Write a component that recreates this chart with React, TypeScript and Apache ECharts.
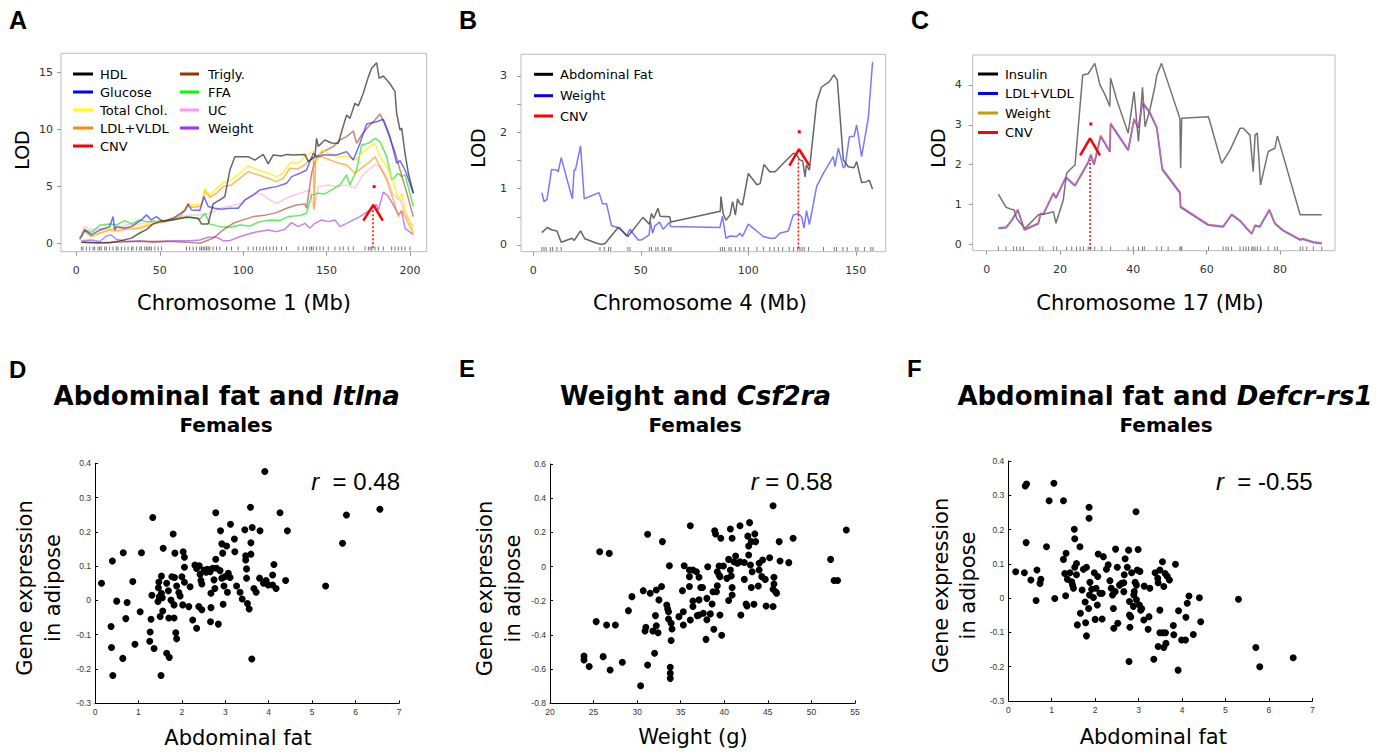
import React, { useEffect, useRef } from 'react';
import * as echarts from 'echarts';

const FONT = '"DejaVu Sans", Verdana, sans-serif';
const ARIAL = '"Liberation Sans", Arial, sans-serif';

// ---------- Panel A: Chromosome 1 ----------
const hdlA = [[3,0.1],[12,0.05],[20,0.05],[26,0.2],[33,0.45],[38,0.9],[42,1.2],[46,1.7],[50,1.9],[58,2.05],[66,2.3],[73,2.2],[75,1.7],[79,1.7],[82,3.45],[86,3.8],[89,4.1],[92,6.4],[95,7.6],[103,7.6],[107,7.3],[112,7.8],[115,6.96],[118,7.75],[123,7.66],[126,7.8],[130,7.75],[137,7.8],[139,7.16],[143,7.6],[144,9.2],[145,8.5],[149,9.06],[153,8.8],[157,8.77],[159,9.8],[162,11.26],[164,10.96],[167,12.28],[169,12.05],[172,13.16],[175,14.6],[177,15.35],[180,15.85],[181.5,14.47],[184,14.68],[188,14.0],[191,13.3],[192,11.4],[194,9.94],[195,10.1],[197,7.9],[199,6.14],[202,4.39]];
const glucoseA = [[2,0.35],[5,1.17],[9,0.73],[14,1.17],[20,1.46],[22,2.34],[23,1.17],[24,1.46],[29,1.32],[33,1.46],[39,2.05],[42,2.49],[45,2.05],[48,2.34],[52,1.9],[58,2.19],[65,2.87],[67,3.45],[69,2.92],[74,2.87],[76.5,4.09],[79,3.22],[83,3.07],[87,2.98],[92,3.07],[97,3.07],[101,3.8],[106,4.24],[110,4.68],[116,4.88],[120,4.97],[126,5.26],[129,5.85],[134,6.14],[138,6.43],[142,7.9],[144,7.6],[148,7.75],[156,7.75],[162,8.04],[166,7.31],[170,8.77],[174,10.47],[180,10.67],[184,10.88],[188,9.36],[192,7.02],[194,7.25],[197,6.43],[202,4.39]];
const totalCholA = [[2,0.53],[5,1.17],[9,0.73],[14,1.02],[20,1.32],[24,1.23],[30,1.4],[38,1.46],[46,1.81],[54,2.05],[62,2.49],[67,3.5],[70,3.36],[75,3.45],[77,4.82],[80,4.24],[84,4.82],[88,5.32],[93,5.56],[98,6.14],[103,6.78],[109,6.43],[115,6.14],[120,5.85],[124,6.14],[128,7.08],[133,7.02],[138,7.75],[142,8.04],[144,7.16],[147,8.19],[151,7.9],[156,7.6],[162,7.66],[167,7.31],[172,8.04],[176,8.48],[179,8.77],[182,7.6],[186,6.73],[190,5.41],[193,3.8],[195,4.39],[197,2.92],[202,1.17]];
const ldlA = [[2,0.47],[5,1.02],[9,0.58],[14,0.88],[20,1.17],[24,1.08],[30,1.23],[38,1.32],[46,1.7],[54,1.9],[62,2.34],[67,3.27],[70,3.16],[75,3.27],[77,4.62],[80,4.04],[84,4.39],[88,4.97],[93,5.12],[98,5.7],[103,6.29],[109,6.0],[115,5.7],[120,5.41],[124,5.7],[128,6.58],[133,6.52],[138,7.02],[142,7.6],[142.5,3.0],[143.5,7.46],[147,7.6],[151,7.37],[156,7.08],[162,6.87],[167,6.14],[172,6.73],[176,7.16],[179,7.6],[182,6.73],[186,5.56],[190,3.8],[193,2.34],[195,2.92],[202,0.88]];
const triglyA = [[3,0.1],[14,0.05],[34,0.15],[54,0.18],[66,0.1],[74,0.0],[82,0.44],[88,1.17],[94,1.75],[100,2.05],[106,2.34],[114,2.49],[120,2.69],[126,3.07],[132,3.36],[137,3.45],[138,3.07],[141,6.14],[144,7.6],[148,8.04],[154,8.48],[158,9.06],[162,9.36],[166,9.85],[168,8.77],[171,9.5],[175,10.23],[179,10.82],[182,11.35],[185,10.38],[189,8.77],[191,8.04],[194,6.43],[197,4.97],[202,2.34]];
const ffaA = [[3,0.53],[5,1.23],[9,0.94],[14,1.58],[20,1.7],[24,1.6],[29,1.99],[33,1.7],[38,2.05],[42,1.9],[48,1.9],[54,2.05],[62,2.19],[69,2.28],[74,2.11],[77,2.63],[80,1.7],[86,1.46],[92,1.4],[98,1.61],[104,1.52],[110,1.9],[116,2.05],[122,1.99],[127,2.34],[134,2.43],[138,2.63],[141,4.24],[145,4.39],[149,4.33],[153,4.68],[158,5.12],[162,5.99],[164,5.12],[168,6.43],[171,8.63],[175,8.77],[179,9.21],[182,8.92],[186,7.6],[189,5.56],[193,6.14],[195,5.85],[197,6.0],[202,3.22]];
const ucA = [[3,0.88],[5,1.46],[9,1.17],[14,1.32],[20,1.23],[30,1.61],[38,1.7],[46,1.9],[54,1.99],[62,2.34],[69,2.49],[76,2.49],[80,2.63],[86,3.07],[92,3.27],[98,3.45],[103,3.95],[108,4.39],[112,4.24],[116,3.8],[120,3.5],[124,3.8],[129,4.15],[134,4.39],[140,4.68],[142.5,2.92],[145,4.97],[151,5.12],[156,4.97],[162,5.12],[167,4.82],[171,5.85],[175,6.43],[179,6.87],[182,6.73],[186,5.85],[190,4.24],[194,3.8],[197,2.63],[202,1.46]];
const weightA = [[3,0.23],[9,0.29],[14,0.15],[18,0.64],[21,0.73],[24,0.35],[30,0.15],[38,0.23],[46,0.09],[58,0.23],[68,0.23],[74,0.29],[79,0.53],[84,0.53],[88,0.23],[92,0.23],[97,0.53],[103,0.82],[109,1.02],[115,1.17],[120,1.02],[125,1.23],[129,1.81],[133,1.46],[137,1.75],[140,1.32],[143,1.75],[147,2.05],[151,1.9],[155,2.05],[158,1.46],[162,1.75],[166,2.05],[170,2.34],[173,2.63],[176,2.92],[180,3.4],[181,2.9],[184,4.5],[187,4.1],[191,3.1],[193,2.5],[195,2.8],[197,1.3],[202,0.75]];
const cnvA = [[172,1.98],[178,3.36],[183.7,1.98]];
const cnvDotA = [[178.5,4.97]];
const cnvMarkA = [[177.8,-0.44],[177.8,2.98]];
const rugA = [3,4,6,8,10,11,13,14,15,17,18,20,22,24,25,27,29,31,33,34,36,38,39,41,42,43,44,45,47,49,51,66,68,70,72,74,75,76,77,78,79,80,82,84,86,90,93,97,103,106,108,110,112,114,116,118,120,123,126,133,136,138,140,141,142,144,146,148,151,155,158,160,163,166,173,175,176,177,179,181,184,189,191,193,195,197,200];
const xTicksA = [0, 50, 100, 150, 200];
const yTicksA = [0, 5, 10, 15];

// ---------- Panel B: Chromosome 4 ----------
const abdFatB = [[4,0.22],[6.5,0.31],[8.5,0.27],[11,0.25],[13,0.05],[18,0.12],[19,0.08],[22,0.25],[24,0.11],[29.5,0.03],[32,0.01],[33.5,0.03],[39.5,0.31],[44,0.15],[51,0.49],[54,0.37],[55,0.56],[56,0.47],[58,0.65],[59,0.51],[63.5,0.5],[64,0.41],[87,0.6],[87.3,0.86],[88.3,0.56],[89.6,0.44],[91.5,0.53],[92.7,0.77],[94,0.53],[95,0.82],[96,0.74],[97.3,0.71],[100,1.27],[104,1.07],[105.5,1.09],[107.3,1.43],[110,1.3],[112.5,1.3],[116.3,1.45],[121,1.63],[122.5,1.6],[124,1.51],[125.3,1.49],[126.4,1.21],[127,1.42],[128.4,1.33],[131.8,2.54],[134,2.8],[137.7,2.9],[139.8,3.02],[141.4,2.93],[144.2,1.51],[146.5,1.39],[149.2,1.37],[150.4,1.48],[152.7,1.11],[154.7,1.12],[156.3,1.15],[157.8,0.99]];
const weightB = [[4,0.93],[5,0.77],[6.4,0.81],[8.5,1.34],[10.8,1.33],[11.6,1.3],[13,1.55],[15.8,1.15],[18.2,0.82],[19,1.33],[19.6,1.33],[22,1.76],[23.7,0.82],[30.6,0.93],[32.2,0.73],[34.1,0.73],[36.4,0.34],[40.3,0.3],[41.8,0.24],[43.4,0.16],[44.9,0.28],[48.8,0.09],[50.3,0.09],[53.9,0.18],[54.5,0.41],[55.5,0.21],[56.6,0.34],[57.6,0.37],[58.6,0.41],[60.4,0.28],[63.5,0.41],[63.8,0.33],[86.8,0.31],[88,0.51],[89.6,0.12],[91.5,0.16],[94.6,0.15],[96.1,0.21],[97.3,0.15],[100,0.37],[107,0.15],[110.1,0.12],[112.4,0.12],[114.7,0.21],[118.6,0.25],[120.9,0.53],[123.2,0.56],[124.8,0.5],[125.9,0.3],[127.1,0.61],[128.4,0.36],[131.8,1.04],[134.9,1.27],[139.5,1.57],[140.3,1.39],[141.9,1.72],[144.2,1.37],[145,1.39],[147,1.92],[149.2,1.93],[150.4,2.13],[152.7,1.57],[155.8,2.25],[157.8,3.25]];
const cnvB = [[119.1,1.41],[123.6,1.7],[128.4,1.41]];
const cnvDotB = [[123.7,2.01]];
const cnvMarkB = [[123.3,-0.06],[123.3,1.52]];
const rugB = [4,5,6,8,9,11,13,31,33,35,36,44,45,54,55,57,58,60,61,63,64,87,88,89,91,92,94,96,98,100,104,107,110,112,114,116,119,121,123,124,125,126,128,135,140,141,144,146,150,151,154,157,158];
const xTicksB = [0, 50, 100, 150];
const yTickMarksB = [0, 0.5, 1, 1.5, 2, 2.5, 3];
const yTicksB = [0, 1, 2, 3];

// ---------- Panel C: Chromosome 17 ----------
const insulinC = [[3.2,1.26],[5.3,0.93],[6.4,0.89],[7.5,0.86],[8.2,0.65],[9.1,0.54],[10.5,0.4],[14.1,0.74],[16.8,0.78],[18.2,0.82],[18.9,0.53],[20.9,1.11],[21.8,1.78],[22.7,1.87],[24.1,1.99],[26.2,4.25],[27.7,4.28],[29.5,4.54],[30.9,4.0],[32.3,3.75],[33.6,3.46],[33.8,4.17],[35.5,3.62],[38.6,2.79],[40.2,3.83],[41.4,2.58],[42.5,3.94],[43.2,2.95],[44.5,3.37],[45.9,3.96],[46.4,4.25],[47.7,4.54],[52.7,3.16],[52.9,1.91],[53.2,3.16],[60.5,3.2],[64.1,2.03],[66.4,2.37],[69.1,2.91],[70,2.91],[71.8,2.74],[72.7,1.82],[73.2,2.74],[73.8,2.79],[74.7,1.49],[76.8,2.33],[78.6,2.41],[79.3,2.72],[85.5,0.74],[87.3,0.74],[91.4,0.74]];
const ldlC = [[3.2,0.4],[5.3,0.42],[6.8,0.59],[8.5,0.86],[10.3,0.36],[14.1,0.52],[14.7,0.76],[15.5,0.76],[18.2,1.28],[18.9,1.16],[21.6,1.68],[24.1,1.47],[27.7,2.05],[28.4,2.24],[29.3,2.0],[31.1,2.71],[33.6,2.32],[33.8,3.02],[38.6,2.36],[40.2,3.13],[41.4,2.92],[42.5,3.55],[44.5,3.3],[46.4,2.92],[47.9,1.88],[52.7,1.29],[52.9,0.93],[60.5,0.48],[64.5,0.44],[66.8,0.74],[69.1,0.59],[70.5,0.44],[72.3,0.26],[73.2,0.47],[74.5,0.44],[77.1,0.86],[78.6,0.52],[80.9,0.34],[85.5,0.11],[86.2,0.13],[89.1,0.05],[91.4,0.02]];
const weightC = [[3.2,0.42],[5.3,0.44],[6.8,0.61],[8.5,0.88],[10.3,0.38],[14.1,0.54],[14.7,0.78],[15.5,0.78],[18.2,1.3],[18.9,1.18],[21.6,1.7],[24.1,1.49],[27.7,2.08],[28.4,2.27],[29.3,2.03],[31.1,2.74],[33.6,2.35],[33.8,3.05],[38.6,2.39],[40.2,3.16],[41.4,2.95],[42.5,3.58],[44.5,3.33],[46.4,2.95],[47.9,1.91],[52.7,1.32],[52.9,0.96],[60.5,0.5],[64.5,0.46],[66.8,0.76],[69.1,0.61],[70.5,0.46],[72.3,0.28],[73.2,0.49],[74.5,0.46],[77.1,0.88],[78.6,0.54],[80.9,0.36],[85.5,0.13],[86.2,0.15],[89.1,0.07],[91.4,0.04]];
const cnvC = [[25.5,2.23],[28.2,2.66],[30.9,2.23]];
const cnvDotC = [[28.4,3.02]];
const cnvMarkC = [[28.2,-0.12],[28.2,2.12]];
const rugC = [3.2,5.3,7.3,8.2,9.1,10,14.5,15.3,18.2,19.1,21.8,23.2,24.5,25.5,26.4,27.7,28.4,29.5,31.4,33.8,38.6,40,41.4,42.5,43,46.4,47.7,49.5,52.7,53,53.2,60.5,64.5,65.3,65.9,66.8,69.1,70,70.7,71.4,72.3,72.7,73.2,73.8,74.7,76.8,78.6,79.3,85.5,86.2,87.3,89.1,91.4];
const xTicksC = [0, 20, 40, 60, 80];
const yTicksC = [0, 1, 2, 3, 4];

// ---------- Panel D: Abdominal fat vs Itlna ----------
const scatterD = [[0.15,0.05],[0.40,0.115],[0.50,-0.002],[0.37,-0.076],[0.38,-0.137],[0.41,-0.219],[0.65,0.139],[0.64,-0.169],[0.74,-0.006],[0.71,-0.053],[0.87,0.055],[0.92,-0.128],[1.07,0.139],[1.04,-0.033],[1.33,0.242],[1.31,0.015],[1.29,-0.055],[1.27,-0.092],[1.26,-0.119],[1.36,-0.14],[1.46,0.037],[1.47,0.054],[1.48,0.011],[1.45,-0.003],[1.50,-0.047],[1.53,0.071],[1.53,0.021],[1.55,0.008],[1.56,-0.031],[1.57,0.152],[1.52,-0.219],[1.65,0.05],[1.70,-0.051],[1.65,-0.154],[1.71,-0.166],[1.77,0.069],[1.69,0.028],[1.75,0.001],[1.80,0.194],[1.83,0.067],[1.84,0.138],[1.82,-0.013],[1.82,-0.051],[1.86,-0.094],[1.88,-0.112],[1.88,0.042],[1.93,0.023],[1.96,0.013],[2.00,0.069],[2.02,-0.013],[2.03,0.142],[2.06,0.126],[2.06,0.097],[2.06,0.053],[2.19,0.04],[2.16,-0.018],[2.25,-0.057],[2.30,0.103],[2.34,0.093],[2.34,-0.081],[2.39,-0.018],[2.40,0.101],[2.42,0.076],[2.44,0.058],[2.46,-0.027],[2.46,0.048],[2.51,0.089],[2.56,0.082],[2.59,0.091],[2.65,0.084],[2.67,-0.021],[2.67,0.021],[2.66,-0.062],[2.71,0.094],[2.74,0.06],[2.78,0.256],[2.78,0.12],[2.76,0.035],[2.80,0.094],[2.84,-0.069],[2.88,0.087],[2.89,0.203],[2.92,0.165],[2.94,0.138],[2.92,0.065],[2.97,0.042],[2.95,-0.011],[2.99,0.069],[3.03,0.159],[3.05,0.024],[3.07,0.079],[3.11,0.067],[3.12,0.222],[3.21,0.179],[3.22,0.142],[3.26,0.042],[3.34,0.024],[3.39,0.004],[3.45,0.206],[3.47,0.118],[3.47,0.13],[3.49,0.092],[3.49,0.065],[3.51,-0.009],[3.55,-0.025],[3.58,0.272],[3.59,0.168],[3.59,0.135],[3.62,0.213],[3.61,-0.171],[3.66,0.035],[3.71,0.024],[3.79,0.065],[3.80,0.203],[3.88,0.05],[3.91,0.376],[3.94,0.058],[3.99,0.045],[4.09,0.074],[4.12,0.105],[4.09,0.045],[4.17,0.035],[4.26,0.256],[4.43,0.203],[4.39,0.058],[5.31,0.042],[5.70,0.167],[5.79,0.249],[6.56,0.266]];

// ---------- Panel E: Weight vs Csf2ra ----------
const scatterE = [[23.9,-0.523],[23.9,-0.546],[24.5,-0.585],[25.3,-0.322],[25.7,0.087],[26.1,-0.527],[26.5,-0.342],[26.8,0.077],[26.9,-0.605],[27.5,-0.342],[28.3,-0.56],[29.0,-0.258],[29.4,-0.176],[30.4,-0.697],[30.7,-0.141],[31.0,-0.355],[30.9,-0.377],[31.2,0.189],[31.2,-0.576],[31.5,-0.156],[31.8,-0.377],[32.0,-0.507],[32.1,-0.287],[32.2,-0.346],[32.2,-0.137],[32.4,-0.387],[32.5,-0.195],[32.8,-0.117],[32.9,0.146],[33.4,-0.225],[33.5,-0.248],[33.6,-0.264],[33.7,0.005],[33.6,-0.307],[33.8,-0.589],[33.8,-0.624],[33.8,-0.654],[33.9,-0.433],[33.9,-0.332],[34.0,-0.365],[34.8,-0.293],[35.2,-0.141],[35.3,-0.342],[35.3,-0.264],[35.4,0.005],[36.0,-0.059],[36.0,-0.02],[36.0,-0.117],[36.1,0.239],[36.1,-0.313],[36.4,-0.02],[36.4,-0.201],[36.4,-0.234],[36.8,-0.03],[36.9,-0.287],[37.1,-0.195],[37.1,-0.063],[37.1,-0.283],[37.3,-0.123],[37.5,-0.123],[37.6,-0.273],[37.9,-0.426],[38.0,-0.186],[38.0,-0.311],[38.1,-0.001],[38.4,-0.277],[38.6,-0.219],[38.7,-0.147],[38.8,-0.367],[38.9,0.21],[39.0,0.191],[39.1,-0.147],[39.2,-0.112],[39.2,-0.03],[39.4,-0.049],[39.4,0.003],[39.5,-0.283],[39.5,-0.059],[39.6,0.166],[39.7,-0.402],[39.9,0.003],[40.3,-0.069],[40.5,0.042],[40.5,-0.199],[40.7,0.22],[40.7,-0.02],[40.8,-0.055],[40.9,0.166],[40.9,-0.123],[40.9,-0.166],[41.1,0.028],[41.3,0.062],[41.5,0.019],[41.8,0.239],[41.8,0.028],[41.9,-0.283],[42.3,-0.075],[42.3,0.024],[42.5,-0.219],[42.6,-0.231],[42.7,0.178],[42.8,0.068],[42.8,0.12],[42.9,0.257],[43.0,0.009],[43.1,0.146],[43.1,-0.123],[43.2,-0.03],[43.4,-0.221],[43.5,0.191],[43.6,0.146],[43.9,-0.114],[44.0,0.019],[44.0,-0.02],[44.3,-0.059],[44.4,0.038],[44.7,-0.075],[44.8,-0.231],[45.2,0.052],[45.6,0.356],[45.6,-0.234],[45.7,-0.063],[45.7,-0.102],[45.6,-0.133],[45.9,-0.147],[46.0,-0.156],[46.3,0.146],[46.4,0.032],[47.4,0.023],[47.9,0.166],[52.2,0.042],[52.6,-0.082],[53.0,-0.082],[54.0,0.214]];

// ---------- Panel F: Abdominal fat vs Defcr-rs1 ----------
const scatterF = [[0.17,0.077],[0.37,0.074],[0.39,0.327],[0.42,0.333],[0.41,0.162],[0.52,0.053],[0.64,-0.007],[0.66,0.082],[0.73,0.043],[0.75,0.055],[0.88,0.15],[0.94,0.284],[1.05,0.335],[1.07,-0.001],[1.27,0.284],[1.27,0.113],[1.32,0.007],[1.33,0.131],[1.30,0.072],[1.36,0.055],[1.42,0.074],[1.46,0.048],[1.48,0.038],[1.50,0.029],[1.52,0.201],[1.53,0.173],[1.53,0.09],[1.57,0.101],[1.57,0.068],[1.59,-0.078],[1.65,0.15],[1.66,-0.044],[1.70,0.024],[1.73,0.084],[1.77,-0.011],[1.78,-0.072],[1.80,-0.11],[1.80,0.09],[1.86,0.265],[1.86,0.233],[1.85,-0.03],[1.87,0.009],[1.88,0.046],[1.92,0.026],[1.96,0.002],[1.98,0.074],[2.00,-0.062],[2.02,0.029],[2.05,-0.02],[2.06,0.063],[2.07,0.129],[2.11,0.014],[2.16,-0.061],[2.19,0.121],[2.16,0.014],[2.26,0.084],[2.30,0.097],[2.34,0.051],[2.37,0.029],[2.40,0.009],[2.42,-0.03],[2.43,-0.088],[2.46,0.019],[2.47,0.143],[2.51,0.09],[2.52,-0.073],[2.56,0.038],[2.61,0.043],[2.66,0.045],[2.67,0.068],[2.66,0.019],[2.69,0.115],[2.74,0.09],[2.77,0.14],[2.79,-0.049],[2.78,-0.185],[2.79,-0.01],[2.80,-0.085],[2.82,-0.055],[2.84,0.074],[2.88,-0.024],[2.89,0.009],[2.90,0.019],[2.92,0.046],[2.94,0.252],[2.95,0.038],[2.95,-0.005],[2.97,0.082],[2.99,0.142],[3.02,-0.02],[3.03,0.078],[3.05,-0.035],[3.07,-0.03],[3.12,-0.064],[3.13,0.035],[3.22,-0.091],[3.24,-0.054],[3.26,0.029],[3.35,-0.178],[3.38,0.074],[3.44,0.058],[3.45,0.045],[3.45,-0.141],[3.49,0.082],[3.49,-0.035],[3.49,-0.101],[3.55,0.106],[3.56,-0.101],[3.58,0.034],[3.58,-0.144],[3.61,0.072],[3.62,-0.101],[3.63,-0.132],[3.66,0.064],[3.71,0.053],[3.80,-0.08],[3.81,-0.107],[3.85,0.099],[3.92,-0.037],[3.91,-0.21],[3.99,-0.122],[4.08,-0.122],[4.09,-0.056],[4.12,-0.015],[4.16,0.006],[4.26,-0.106],[4.40,0.001],[4.43,-0.069],[5.30,-0.003],[5.70,-0.144],[5.79,-0.2],[6.56,-0.174]];

// ---------- helpers ----------
function lodX(gi: number, min: number, max: number, ticks: number[]) {
  return {
    type: 'value', gridIndex: gi, min, max,
    axisLine: { show: false, onZero: false },
    splitLine: { show: false },
    axisTick: { show: true, customValues: ticks, length: 4, lineStyle: { color: '#999' } },
    axisLabel: { show: true, customValues: ticks, fontSize: 11, color: '#333', margin: 13, fontFamily: FONT },
  };
}
function lodY(gi: number, min: number, max: number, tickMarks: number[], labels: number[], margin: number) {
  return {
    type: 'value', gridIndex: gi, min, max,
    axisLine: { show: false, onZero: false },
    splitLine: { show: false },
    axisTick: { show: true, customValues: tickMarks, length: 4, lineStyle: { color: '#999' } },
    axisLabel: { show: true, customValues: labels, fontSize: 11, color: '#333', margin, fontFamily: FONT },
  };
}
const fmt1 = (v: number) => String(Math.round(v * 10) / 10);
function scAxis(gi: number, min: number, max: number, interval: number) {
  return {
    type: 'value', gridIndex: gi, min, max, interval,
    axisLine: { show: true, onZero: false, lineStyle: { color: '#000', width: 1 } },
    axisTick: { show: true, inside: true, length: 3, lineStyle: { color: '#000' } },
    axisLabel: { fontSize: 8.5, color: '#333', margin: 4, fontFamily: ARIAL, formatter: fmt1, showMinLabel: true, showMaxLabel: true },
    splitLine: { show: false },
  };
}
function lineS(ax: number, data: number[][], color: string, width = 1.5, opacity = 0.7, extra: any = {}) {
  return {
    type: 'line', xAxisIndex: ax, yAxisIndex: ax, data, symbol: 'none', showSymbol: false,
    lineStyle: { color, width, opacity, ...extra }, silent: true, animation: false,
  };
}
function rugS(ax: number, xs: number[], y: number) {
  return {
    type: 'scatter', xAxisIndex: ax, yAxisIndex: ax, data: xs.map((x) => [x, y]),
    symbol: 'rect', symbolSize: [1, 4], itemStyle: { color: '#777', opacity: 1 }, silent: true,
  };
}
function dotS(ax: number, data: number[][]) {
  return { type: 'scatter', xAxisIndex: ax, yAxisIndex: ax, data, symbol: 'rect', symbolSize: 3, itemStyle: { color: '#f00', opacity: 1 }, silent: true };
}
function scatS(ax: number, data: number[][]) {
  return { type: 'scatter', xAxisIndex: ax, yAxisIndex: ax, data, symbol: 'circle', symbolSize: 7, itemStyle: { color: '#000', opacity: 1 }, silent: true };
}
function txt(x: number, y: number, text: string, fontSize: number, o: any = {}, rot = 0) {
  return {
    type: 'text', x, y, rotation: rot, silent: true,
    style: { text, fontSize, fontFamily: FONT, fill: '#000', align: 'center', verticalAlign: 'middle', ...o },
  };
}
function legendItems(x1: number, x2: number, tx: number, rows: number[], names: string[], colors: string[]) {
  const out: any[] = [];
  names.forEach((n, i) => {
    out.push({ type: 'line', silent: true, shape: { x1, y1: rows[i], x2, y2: rows[i] }, style: { stroke: colors[i], lineWidth: 3 } });
    out.push(txt(tx, rows[i], n, 13, { align: 'left' }));
  });
  return out;
}

function buildOption() {
  const grids = [
    { left: 61, top: 53.3, width: 365.7, height: 198.4, show: true, borderColor: '#bbb', borderWidth: 1, backgroundColor: 'transparent' },
    { left: 521, top: 54.3, width: 364.7, height: 197.4, show: true, borderColor: '#bbb', borderWidth: 1, backgroundColor: 'transparent' },
    { left: 972.7, top: 55, width: 362.3, height: 195.7, show: true, borderColor: '#bbb', borderWidth: 1, backgroundColor: 'transparent' },
    { left: 95, top: 463.3, width: 304, height: 240 },
    { left: 550, top: 464, width: 305, height: 239.3 },
    { left: 1008.3, top: 461, width: 304, height: 240 },
  ];
  const intLabel = { fontSize: 8.5, color: '#333', margin: 4, fontFamily: ARIAL, showMinLabel: true, showMaxLabel: true };
  const xAxis = [
    lodX(0, -9.2, 210, xTicksA),
    lodX(1, -5.7, 163.9, xTicksB),
    lodX(2, -3.8, 95, xTicksC),
    { ...scAxis(3, 0, 7, 1), axisLabel: intLabel },
    { ...scAxis(4, 20, 55, 5), axisLabel: intLabel },
    { ...scAxis(5, 0, 7, 1), axisLabel: intLabel },
  ];
  const yAxis = [
    lodY(0, -0.74, 16.67, yTicksA, yTicksA, 8),
    lodY(1, -0.119, 3.385, yTickMarksB, yTicksB, 14),
    lodY(2, -0.16, 4.75, yTicksC, yTicksC, 11),
    scAxis(3, -0.3, 0.4, 0.1),
    scAxis(4, -0.8, 0.6, 0.2),
    scAxis(5, -0.3, 0.4, 0.1),
  ];
  const series: any[] = [
    rugS(0, rugA, -0.45),
    lineS(0, ucA, '#ffb8d8', 1.5, 0.75),
    lineS(0, weightA, '#a040f0', 1.5, 0.65),
    lineS(0, ffaA, '#10e010', 1.5, 0.65),
    lineS(0, triglyA, '#a03a1a', 1.5, 0.6),
    lineS(0, ldlA, '#ff9000', 1.5, 0.65),
    lineS(0, totalCholA, '#ffee00', 1.5, 0.75),
    lineS(0, glucoseA, '#2020ff', 1.5, 0.65),
    lineS(0, hdlA, '#333', 1.5, 0.75),
    lineS(0, cnvMarkA, '#f00', 1.5, 1, { type: [2, 2] }),
    lineS(0, cnvA, '#f00', 2.5, 1),
    dotS(0, cnvDotA),

    rugS(1, rugB, -0.07),
    lineS(1, weightB, '#4040ff', 1.5, 0.7),
    lineS(1, abdFatB, '#333', 1.5, 0.75),
    lineS(1, cnvMarkB, '#f00', 1.5, 1, { type: [2, 2] }),
    lineS(1, cnvB, '#f00', 2.5, 1),
    dotS(1, cnvDotB),

    rugS(2, rugC, -0.105),
    lineS(2, insulinC, '#444', 1.5, 0.75),
    lineS(2, ldlC, '#3030ff', 1.8, 0.75),
    lineS(2, weightC, '#e07070', 1.3, 0.85),
    lineS(2, cnvMarkC, '#f00', 1.5, 1, { type: [2, 2] }),
    lineS(2, cnvC, '#f00', 2.5, 1),
    dotS(2, cnvDotC),

    scatS(3, scatterD),
    scatS(4, scatterE),
    scatS(5, scatterF),
  ];

  const letter = (x: number, y: number, t: string, size: number) =>
    txt(x, y, t, size, { fontFamily: ARIAL, fontWeight: 'bold', align: 'left' });
  const rich = (size: number, bold: boolean, fam: string) => ({ i: { fontStyle: 'italic', fontWeight: bold ? 'bold' : 'normal', fontSize: size, fontFamily: fam } });

  const graphic: any[] = [
    letter(9, 20, 'A', 25), letter(459, 20, 'B', 25), letter(911, 20, 'C', 25),
    letter(9, 369, 'D', 24), letter(459, 368, 'E', 24), letter(907, 368, 'F', 24),

    txt(21.5, 150, 'LOD', 19, {}, Math.PI / 2),
    txt(477.5, 148, 'LOD', 19, {}, Math.PI / 2),
    txt(938, 148, 'LOD', 19, {}, Math.PI / 2),
    txt(244, 303, 'Chromosome 1 (Mb)', 21),
    txt(700, 303, 'Chromosome 4 (Mb)', 21),
    txt(1150, 303, 'Chromosome 17 (Mb)', 21),

    ...legendItems(73, 93, 100, [74, 92, 110, 128, 146], ['HDL', 'Glucose', 'Total Chol.', 'LDL+VLDL', 'CNV'], ['#000', '#0000ff', '#ffff00', '#ff8c00', '#ff0000']),
    ...legendItems(180, 199, 208, [74, 92, 110, 128], ['Trigly.', 'FFA', 'UC', 'Weight'], ['#993300', '#00ff00', '#ff99ee', '#9933ff']),
    ...legendItems(534, 553, 560, [74.3, 95.7, 116], ['Abdominal Fat', 'Weight', 'CNV'], ['#000', '#0000ff', '#ff0000']),
    ...legendItems(978, 998, 1005, [74, 93.5, 113, 132.5], ['Insulin', 'LDL+VLDL', 'Weight', 'CNV'], ['#000', '#0000ff', '#cc9900', '#ff0000']),

    txt(226.7, 396, 'Abdominal fat and {i|Itlna}', 26, { fontWeight: 'bold', rich: rich(26, true, FONT) }),
    txt(226, 424.5, 'Females', 20, { fontWeight: 'bold' }),
    txt(695.5, 396, 'Weight and {i|Csf2ra}', 26, { fontWeight: 'bold', rich: rich(26, true, FONT) }),
    txt(695, 424.5, 'Females', 20, { fontWeight: 'bold' }),
    txt(1165, 396, 'Abdominal fat and {i|Defcr-rs1}', 26, { fontWeight: 'bold', rich: rich(26, true, FONT) }),
    txt(1166, 424.5, 'Females', 20, { fontWeight: 'bold' }),

    txt(400, 481, '{i|r}  = 0.48', 24, { fontFamily: ARIAL, align: 'right', rich: rich(24, false, ARIAL) }),
    txt(832.7, 481.7, '{i|r} = 0.58', 24, { fontFamily: ARIAL, align: 'right', rich: rich(24, false, ARIAL) }),
    txt(1312.7, 481.7, '{i|r}  = -0.55', 24, { fontFamily: ARIAL, align: 'right', rich: rich(24, false, ARIAL) }),

    txt(25, 588, 'Gene expression', 21, {}, Math.PI / 2),
    txt(53.3, 588, 'in adipose', 21, {}, Math.PI / 2),
    txt(485, 588.5, 'Gene expression', 21, {}, Math.PI / 2),
    txt(513.3, 588.5, 'in adipose', 21, {}, Math.PI / 2),
    txt(940.7, 585.5, 'Gene expression', 21, {}, Math.PI / 2),
    txt(968.3, 585.5, 'in adipose', 21, {}, Math.PI / 2),

    txt(238, 738, 'Abdominal fat', 21),
    txt(693, 737.3, 'Weight (g)', 21),
    txt(1153.3, 736.7, 'Abdominal fat', 21),
  ];

  return {
    animation: false,
    backgroundColor: '#fff',
    textStyle: { fontFamily: FONT },
    grid: grids,
    xAxis,
    yAxis,
    series,
    graphic,
  };
}

export default function App() {
  const ref = useRef<HTMLDivElement>(null);
  useEffect(() => {
    if (!ref.current) return;
    const chart = echarts.init(ref.current, null, { renderer: 'svg', width: 1396, height: 756 });
    chart.setOption(buildOption() as any);
    return () => chart.dispose();
  }, []);
  return (
    <div
      ref={ref}
      style={{ position: 'fixed', left: 0, top: 0, width: 1396, height: 756, background: '#fff' }}
    />
  );
}
